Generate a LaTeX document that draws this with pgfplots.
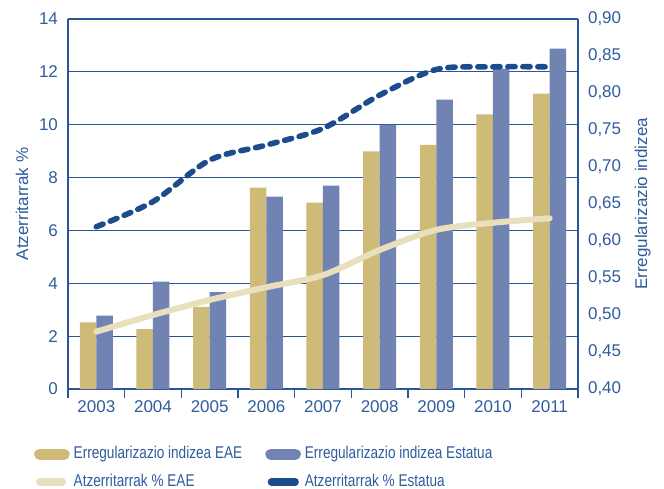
\documentclass[border=0pt]{standalone}
\usepackage{fontspec}
\setmainfont{Liberation Sans}
\newfontfamily\legfont[FakeStretch=0.8]{Liberation Sans}
\usepackage{pgfplots}
\usepackage{pgfplotstable}
\pgfplotsset{compat=1.18}
\definecolor{txt}{HTML}{2E5C9C}
\definecolor{axc}{HTML}{2A5596}
\definecolor{barA}{HTML}{CDBB77}
\definecolor{barB}{HTML}{7083B3}
\definecolor{lineA}{HTML}{E8DFBD}
\definecolor{lineB}{HTML}{1D4C8D}

\pgfplotstableread{
x EAE Estatua
0 0.490 0.499
1 0.481 0.545
2 0.511 0.531
3 0.672 0.660
4 0.652 0.675
5 0.721 0.757
6 0.730 0.791
7 0.771 0.833
8 0.799 0.860
}\indizea

\pgfplotstableread{
x EAE Estatua
0 2.17 6.14
1 2.80 7.09
2 3.37 8.66
3 3.85 9.23
4 4.31 9.86
5 5.26 11.12
6 6.02 12.09
7 6.29 12.19
8 6.46 12.19
}\atzerritarrak

\newcommand{\lblfont}{\fontsize{8.5}{10}\selectfont}

\begin{document}
\begin{tikzpicture}
\path[use as bounding box] (-34pt,-49.5pt) rectangle (298pt,194.5pt);
\pgfplotsset{
  common/.style={
    at={(0pt,0pt)}, anchor=south west,
    scale only axis, width=255pt, height=185pt,
    xmin=-0.5, xmax=8.5,
    axis line style={draw=axc, line width=0.6pt, -},
    tick label style={font=\lblfont, text=txt},
    label style={font=\lblfont, text=txt},
    /pgf/number format/assume math mode=true,
  }
}
% background axis: grid, left and bottom axis lines
\begin{axis}[common,
  ymin=0, ymax=14, ytick={0,2,...,14},
  axis y line*=left, axis x line*=bottom,
  ymajorgrids, grid style={draw=axc, line width=0.6pt},
  ytick style={draw=none},
  yticklabel style={xshift=-1.5pt},
  xtick={0,...,8},
  xticklabels={2003,2004,2005,2006,2007,2008,2009,2010,2011},
  xtick style={draw=none},
  xticklabel style={yshift=-2.5pt},
  extra x ticks={-0.5,0.5,...,8.5},
  extra x tick labels={},
  extra x tick style={xtick style={draw=axc, line width=0.6pt}, tick align=outside, major tick length=4.5pt},
  ylabel={Atzerritarrak \%},
  ylabel style={at={(axis description cs:-0.090,0.5)}, anchor=center},
]
\addplot[draw=none, forget plot] coordinates {(0,0)};
\end{axis}
% bars on the right axis
\begin{axis}[common,
  ymin=0.40, ymax=0.90, ytick={0.40,0.45,...,0.90},
  axis y line*=right, axis x line=none,
  ytick style={draw=none},
  yticklabel style={/pgf/number format/.cd, fixed, fixed zerofill, precision=2, use comma, /tikz/.cd, xshift=1.5pt},
  ylabel={Erregularizazio indizea},
  ylabel style={at={(axis description cs:1.127,0.5)}, anchor=center},
  ybar=0pt, bar width=8.25pt,
]
\addplot[fill=barA, draw=none] table[x=x, y=EAE] {\indizea};
\addplot[fill=barB, draw=none] table[x=x, y=Estatua] {\indizea};
\end{axis}
% lines on the left axis
\begin{axis}[common,
  ymin=0, ymax=14, hide axis,
  legend columns=2,
  legend cell align=left,
  legend style={at={(-0.079,-0.133)}, anchor=north west, draw=none, fill=none,
    font=\legfont\fontsize{8.5}{9.6}\selectfont, text=txt, row sep=2.2pt,
    /tikz/every even column/.append style={column sep=9.5pt}},
]
\addplot[lineA, line width=3pt, smooth, line cap=round, forget plot] table[x=x, y=EAE] {\atzerritarrak};
\addplot[lineB, line width=2.8pt, smooth, line cap=round, dash pattern=on 3.6pt off 3.9pt, forget plot] table[x=x, y=Estatua] {\atzerritarrak};
\addlegendimage{legend image code/.code={\draw[barA, line width=5.6pt, line cap=round] (2.8pt,0pt) -- (15pt,0pt);}}
\addlegendentry{Erregularizazio indizea EAE}
\addlegendimage{legend image code/.code={\draw[barB, line width=5.6pt, line cap=round] (2.8pt,0pt) -- (15pt,0pt);}}
\addlegendentry{Erregularizazio indizea Estatua}
\addlegendimage{legend image code/.code={\draw[lineA, line width=3.9pt, line cap=round] (3pt,0pt) -- (14pt,0pt);}}
\addlegendentry{Atzerritarrak \% EAE}
\addlegendimage{legend image code/.code={\draw[lineB, line width=3.6pt, line cap=round] (3pt,0pt) -- (15pt,0pt);}}
\addlegendentry{Atzerritarrak \% Estatua}
\end{axis}
\end{tikzpicture}
\end{document}
